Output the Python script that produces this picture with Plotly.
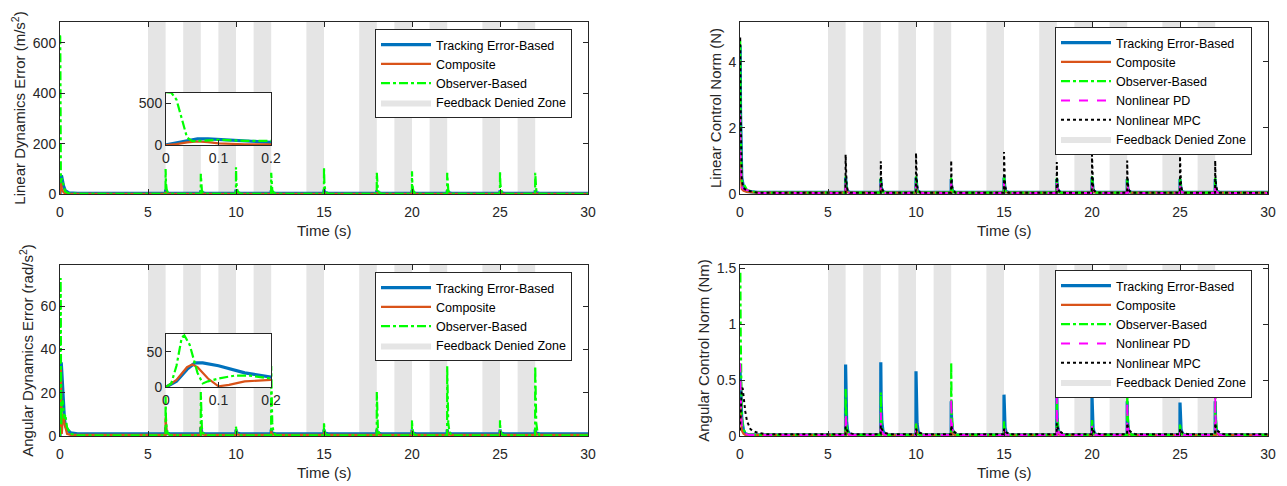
import plotly.graph_objects as go

# ---------------- data ----------------
TIME_MAX = 30
ZONE_START = [5, 7, 9, 11, 14, 17, 19, 21, 24, 26]
ZONE_END = [6, 8, 10, 12, 15, 18, 20, 22, 25, 27]
SPIKE_T = [6, 8, 10, 12, 15, 18, 20, 22, 25, 27]

# shape of a transient after each feedback recovery
PULSE_DT = [-0.004, 0.0, 0.02, 0.06, 0.12, 0.25]
PULSE_SHAPE = [0.0, 1.0, 0.45, 0.18, 0.06, 0.0]
PULSE_DT_SLOW = [-0.004, 0.0, 0.05, 0.15, 0.3, 0.5]
PULSE_SHAPE_SLOW = [0.0, 1.0, 0.6, 0.3, 0.12, 0.0]

NAMES = ["Tracking Error-Based", "Composite", "Observer-Based", "Nonlinear PD", "Nonlinear MPC"]
X_TITLE = "Time (s)"

# Linear dynamics error (m/s^2)
LDE_TRACK_T0 = [0, 0.02, 0.04, 0.06, 0.08, 0.1, 0.15, 0.2, 0.3, 0.5, 1.0]
LDE_TRACK_Y0 = [0, 25, 55, 72, 74, 68, 50, 32, 14, 5, 3]
LDE_TRACK_BASE = 3
LDE_TRACK_PEAKS = [15, 12, 15, 12, 15, 12, 12, 12, 12, 12]
LDE_COMP_T0 = [0, 0.02, 0.04, 0.06, 0.08, 0.1, 0.15, 0.2, 0.3, 0.5, 1.0]
LDE_COMP_Y0 = [0, 10, 32, 42, 35, 20, 8, 6, 3, 1, 0.5]
LDE_COMP_BASE = 0.5
LDE_COMP_PEAKS = [8, 6, 8, 6, 8, 6, 6, 6, 6, 6]
LDE_OBS_T0 = [0, 0.01, 0.02, 0.03, 0.04, 0.05, 0.06, 0.08, 0.1, 0.15, 0.2, 0.3, 0.5, 1.0]
LDE_OBS_Y0 = [630, 625, 540, 300, 90, 45, 50, 60, 62, 50, 30, 10, 2, 1]
LDE_OBS_BASE = 1
LDE_OBS_PEAKS = [98, 79, 105, 83, 105, 83, 89, 83, 90, 83]

# Angular dynamics error (rad/s^2)
ADE_TRACK_T0 = [0, 0.02, 0.04, 0.055, 0.07, 0.1, 0.15, 0.2, 0.25, 0.3, 0.4, 0.6, 1.0]
ADE_TRACK_Y0 = [0, 8, 25, 34, 34, 30, 20, 12, 8, 5, 3, 1.5, 1]
ADE_TRACK_BASE = 1
ADE_TRACK_PEAKS = [3, 3, 2, 2, 2, 2, 2, 2, 2, 2]
ADE_COMP_T0 = [0, 0.02, 0.04, 0.05, 0.06, 0.08, 0.1, 0.12, 0.15, 0.2, 0.25, 0.3, 0.4, 0.6, 1.0]
ADE_COMP_Y0 = [0, 10, 28, 32, 28, 12, 1, 3, 8, 10, 6, 4, 1, 0.5, 0.5]
ADE_COMP_BASE = 0.5
ADE_COMP_PEAKS = [8, 4, 2, 2, 2, 2, 2, 2, 2, 2]
ADE_OBS_T0 = [0, 0.01, 0.02, 0.03, 0.035, 0.045, 0.06, 0.07, 0.08, 0.1, 0.13, 0.16, 0.2, 0.25, 0.3, 0.4, 0.6, 1.0]
ADE_OBS_Y0 = [0, 5, 30, 70, 73, 60, 20, 5, 8, 12, 16, 16, 12, 8, 10, 4, 1, 0.3]
ADE_OBS_BASE = 0.3
ADE_OBS_PEAKS = [18, 20, 4, 32, 6, 20, 7, 32, 7, 32]

# Linear control norm (N)
LCN_T0 = [0, 0.01, 0.03, 0.06, 0.1, 0.2, 0.4, 1.0]
LCN_TRACK_Y0 = [4.4, 4.5, 2.5, 1.0, 0.5, 0.2, 0.08, 0.05]
LCN_TRACK_BASE = 0.05
LCN_TRACK_PEAKS = [0.45, 0.4, 0.45, 0.4, 0.45, 0.4, 0.45, 0.4, 0.4, 0.4]
LCN_COMP_Y0 = [1.0, 0.9, 0.5, 0.3, 0.15, 0.1, 0.06, 0.04]
LCN_COMP_BASE = 0.04
LCN_COMP_PEAKS = [0.2, 0.2, 0.2, 0.2, 0.2, 0.2, 0.2, 0.2, 0.2, 0.2]
LCN_OBS_Y0 = [4.6, 4.6, 2.0, 0.8, 0.4, 0.32, 0.12, 0.04]
LCN_OBS_BASE = 0.04
LCN_OBS_PEAKS = [0.5, 0.45, 0.5, 0.45, 0.5, 0.45, 0.5, 0.45, 0.45, 0.45]
LCN_PD_Y0 = [2.4, 2.3, 1.2, 0.5, 0.2, 0.15, 0.12, 0.03]
LCN_PD_BASE = 0.03
LCN_PD_PEAKS = [0.3, 0.3, 0.3, 0.3, 0.3, 0.3, 0.3, 0.3, 0.3, 0.3]
LCN_MPC_Y0 = [4.7, 4.7, 2.8, 1.2, 0.4, 0.18, 0.1, 0.04]
LCN_MPC_BASE = 0.04
LCN_MPC_PEAKS = [1.15, 0.95, 1.2, 0.97, 1.23, 0.93, 1.15, 0.97, 1.1, 0.97]

# Angular control norm (Nm)
ACN_T0 = [0, 0.02, 0.05, 0.1, 0.2, 0.3, 0.5, 1.0]
ACN_TRACK_Y0 = [0.6, 0.5, 0.3, 0.15, 0.05, 0.02, 0.01, 0.01]
ACN_TRACK_BASE = 0.01
ACN_TRACK_PEAKS = [0.63, 0.65, 0.57, 0.3, 0.36, 0.35, 0.35, 0.3, 0.29, 0.3]
ACN_COMP_Y0 = [0.3, 0.25, 0.1, 0.05, 0.02, 0.01, 0.01, 0.01]
ACN_COMP_BASE = 0.01
ACN_COMP_PEAKS = [0.05, 0.05, 0.1, 0.05, 0.05, 0.05, 0.05, 0.05, 0.05, 0.05]
ACN_OBS_T0 = [0, 0.02, 0.04, 0.07, 0.1, 0.15, 0.2, 0.3, 0.5, 1.0]
ACN_OBS_Y0 = [1.45, 1.45, 0.9, 0.4, 0.2, 0.1, 0.06, 0.03, 0.01, 0.01]
ACN_OBS_BASE = 0.01
ACN_OBS_PEAKS = [0.41, 0.38, 0.1, 0.65, 0.12, 0.4, 0.14, 0.48, 0.1, 0.47]
ACN_PD_Y0 = [0.65, 0.6, 0.4, 0.2, 0.1, 0.05, 0.03, 0.02, 0.01, 0.01]
ACN_PD_BASE = 0.01
ACN_PD_PEAKS = [0.2, 0.2, 0.05, 0.33, 0.07, 0.33, 0.08, 0.3, 0.05, 0.35]
ACN_MPC_T0 = [0, 0.05, 0.1, 0.15, 0.2, 0.3, 0.4, 0.6, 0.8, 1.0, 1.5]
ACN_MPC_Y0 = [0.05, 0.3, 0.42, 0.43, 0.35, 0.22, 0.13, 0.06, 0.04, 0.03, 0.015]
ACN_MPC_BASE = 0.015
ACN_MPC_PEAKS = [0.07, 0.08, 0.05, 0.08, 0.05, 0.1, 0.06, 0.1, 0.05, 0.1]

Y_RANGES = {"lde": [0, 683], "lcn": [0, 5.2], "ade": [0, 79], "acn": [0, 1.53]}
INSET_Y_RANGES = {"lde": [0, 620], "ade": [0, 75]}


def build(t0, y0, base, peaks, dts=PULSE_DT, shape=PULSE_SHAPE):
    t = list(t0)
    y = list(y0)
    for s, p in zip(SPIKE_T, peaks):
        for dt, sh in zip(dts, shape):
            t.append(s + dt)
            y.append(base + p * sh)
    t.append(TIME_MAX)
    y.append(base)
    return t, y


COLORS = ["#0072BD", "#D95319", "#00FF00", "#FF00FF", "#000000"]
DASHES = ["solid", "solid", "dashdot", "dash", "dot"]
WIDTHS = [3.2, 2.2, 2.2, 2.0, 2.0]
ZONE_COLOR = "#E5E5E5"
AX_COLOR = "#262626"
FONT = "Liberation Sans, Arial, sans-serif"

panels = {
    "lde": [build(LDE_TRACK_T0, LDE_TRACK_Y0, LDE_TRACK_BASE, LDE_TRACK_PEAKS),
            build(LDE_COMP_T0, LDE_COMP_Y0, LDE_COMP_BASE, LDE_COMP_PEAKS),
            build(LDE_OBS_T0, LDE_OBS_Y0, LDE_OBS_BASE, LDE_OBS_PEAKS)],
    "ade": [build(ADE_TRACK_T0, ADE_TRACK_Y0, ADE_TRACK_BASE, ADE_TRACK_PEAKS),
            build(ADE_COMP_T0, ADE_COMP_Y0, ADE_COMP_BASE, ADE_COMP_PEAKS),
            build(ADE_OBS_T0, ADE_OBS_Y0, ADE_OBS_BASE, ADE_OBS_PEAKS)],
    "lcn": [build(LCN_T0, LCN_TRACK_Y0, LCN_TRACK_BASE, LCN_TRACK_PEAKS),
            build(LCN_T0, LCN_COMP_Y0, LCN_COMP_BASE, LCN_COMP_PEAKS),
            build(LCN_T0, LCN_OBS_Y0, LCN_OBS_BASE, LCN_OBS_PEAKS),
            build(LCN_T0, LCN_PD_Y0, LCN_PD_BASE, LCN_PD_PEAKS),
            build(LCN_T0, LCN_MPC_Y0, LCN_MPC_BASE, LCN_MPC_PEAKS)],
    "acn": [build(ACN_T0, ACN_TRACK_Y0, ACN_TRACK_BASE, ACN_TRACK_PEAKS),
            build(ACN_T0, ACN_COMP_Y0, ACN_COMP_BASE, ACN_COMP_PEAKS),
            build(ACN_OBS_T0, ACN_OBS_Y0, ACN_OBS_BASE, ACN_OBS_PEAKS),
            build(ACN_OBS_T0, ACN_PD_Y0, ACN_PD_BASE, ACN_PD_PEAKS),
            build(ACN_MPC_T0, ACN_MPC_Y0, ACN_MPC_BASE, ACN_MPC_PEAKS, PULSE_DT_SLOW, PULSE_SHAPE_SLOW)],
}

# subplot placement (page body margin removed by post_script below)
OFF = 0
W, H = 1287, 486


def px_x(a, b):
    return [(a - OFF) / W, (b - OFF) / W]


def px_y(top, bottom):
    return [1 - (bottom - OFF) / H, 1 - (top - OFF) / H]


XL = px_x(60, 588)
XR = px_x(740, 1268)
YT = px_y(22, 194)
YB = px_y(265, 436)

layout_axes = {
    "lde": ("x", "y", XL, YT, "legend", "Linear Dynamics Error (m/s<sup>2</sup>)", [0, 200, 400, 600], 375, 29),
    "lcn": ("x2", "y2", XR, YT, "legend2", "Linear Control Norm (N)", [0, 2, 4], 1055, 27),
    "ade": ("x3", "y3", XL, YB, "legend3", "Angular Dynamics Error (rad/s<sup>2</sup>)", [0, 20, 40, 60], 375, 272),
    "acn": ("x4", "y4", XR, YB, "legend4", "Angular Control Norm (Nm)", [0, 0.5, 1, 1.5], 1055, 270),
}

fig = go.Figure()

for key, (xa, ya, xd, yd, leg, ytitle, yticks, lpx, lpy) in layout_axes.items():
    top = Y_RANGES[key][1]
    zx, zy = [], []
    for a, b in zip(ZONE_START, ZONE_END):
        zx += [a, b, b, a, a, None]
        zy += [0, 0, top, top, 0, None]
    fig.add_trace(go.Scatter(x=zx, y=zy, xaxis=xa, yaxis=ya, fill="toself", fillcolor=ZONE_COLOR,
                             line=dict(width=0, color=ZONE_COLOR), mode="lines", hoverinfo="skip",
                             name="Feedback Denied Zone", legend=leg, legendrank=100))
    for i, (t, y) in enumerate(panels[key]):
        fig.add_trace(go.Scatter(x=t, y=y, xaxis=xa, yaxis=ya, mode="lines", name=NAMES[i],
                                 line=dict(color=COLORS[i], width=WIDTHS[i], dash=DASHES[i]),
                                 legend=leg, legendrank=i + 1))

# insets
INSET_X = px_x(166, 271)
insets = {
    "lde": ("x5", "y5", px_y(93, 145), [0, 500]),
    "ade": ("x6", "y6", px_y(334, 387), [0, 50]),
}
for key, (xa, ya, yd, yticks) in insets.items():
    for i, (t, y) in enumerate(panels[key]):
        fig.add_trace(go.Scatter(x=t, y=y, xaxis=xa, yaxis=ya, mode="lines", showlegend=False,
                                 line=dict(color=COLORS[i], width=WIDTHS[i], dash=DASHES[i])))

axis_common = dict(showline=True, linecolor=AX_COLOR, linewidth=1, mirror="ticks", ticks="inside",
                   ticklen=5, tickcolor=AX_COLOR, tickwidth=1, showgrid=False, zeroline=False,
                   automargin=False, tickfont=dict(size=14, color=AX_COLOR, family=FONT))

lay = dict(width=W, height=H, margin=dict(l=0, r=0, t=0, b=0, autoexpand=False), paper_bgcolor="white",
           plot_bgcolor="white", font=dict(family=FONT, color=AX_COLOR, size=14))

annotations = []
for key, (xa, ya, xd, yd, leg, ytitle, yticks, lpx, lpy) in layout_axes.items():
    xn = "xaxis" + xa[1:]
    yn = "yaxis" + ya[1:]
    lay[xn] = dict(axis_common, domain=xd, anchor=ya, range=[0, TIME_MAX], tickvals=[0, 5, 10, 15, 20, 25, 30],
                   ticklabelstandoff=5)
    lay[yn] = dict(axis_common, domain=yd, anchor=xa, range=Y_RANGES[key], tickvals=yticks,
                   title=dict(text=ytitle, font=dict(size=15, family=FONT, color=AX_COLOR), standoff=3))
    annotations.append(dict(text=X_TITLE, xref=xa + " domain", yref=ya + " domain", x=0.5,
                            y=-36 / ((yd[1] - yd[0]) * H), xanchor="center", yanchor="middle",
                            showarrow=False, font=dict(size=15, family=FONT, color=AX_COLOR)))
    lay[leg] = dict(x=(lpx - OFF) / W, y=1 - (lpy - OFF) / H, xanchor="left", yanchor="top", bgcolor="white",
                    bordercolor=AX_COLOR, borderwidth=1, font=dict(size=12.5, family=FONT, color="#000000"),
                    itemwidth=50, tracegroupgap=0)

for key, (xa, ya, yd, yticks) in insets.items():
    xn = "xaxis" + xa[1:]
    yn = "yaxis" + ya[1:]
    lay[xn] = dict(axis_common, domain=INSET_X, anchor=ya, range=[0, 0.2], tickvals=[0, 0.1, 0.2], mirror=True)
    lay[yn] = dict(axis_common, domain=yd, anchor=xa, range=INSET_Y_RANGES[key], tickvals=yticks, mirror=True)

lay["annotations"] = annotations
fig.update_layout(**lay)
fig.write_html("out.html", config={"displayModeBar": False},
               post_script="document.body.style.margin='0';document.body.style.overflow='hidden';")
